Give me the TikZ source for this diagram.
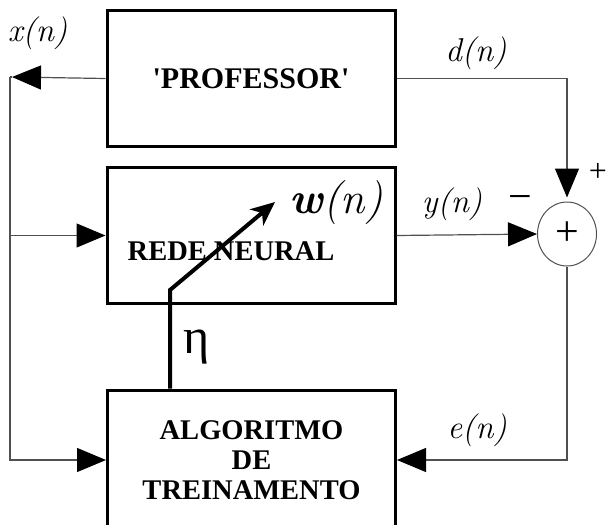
\documentclass[tikz,border=0pt]{standalone}
\usepackage{fontspec}
\setmainfont{Liberation Serif}
\newfontfamily\sigfont{Latin Modern Roman}
\usepackage{tikz}
\usetikzlibrary{arrows.meta,positioning,shapes.geometric,calc}
\definecolor{wiregray}{RGB}{80,80,80}

\begin{document}
\begin{tikzpicture}[x=1pt, y=-1pt,
    block/.style={draw, line width=3pt, rectangle, minimum width=288pt, minimum height=136pt, inner sep=0pt},
    blocktext/.style={font=\fontsize{28.5}{30}\selectfont\bfseries, align=center},
    wire/.style={draw=wiregray, line width=1.2pt},
    head/.style={-{Triangle[length=29pt, width=24pt, color=black]}},
    sig/.style={font=\sigfont\fontsize{33}{36}\selectfont\itshape, anchor=base},
    sign/.style={font=\fontsize{42}{44}\selectfont, inner sep=0pt}]
\useasboundingbox (0,0) rectangle (609,524);
\clip (0,0) rectangle (609,524);

% Blocks
\node[block, font=\fontsize{30}{34}\selectfont\bfseries] (prof) at (251,78.5) {\textquotesingle PROFESSOR\textquotesingle};
\node[block] (rede) at (251,235.5) {};
\node[blocktext, anchor=base] (redetxt) at (231,260) {REDE NEURAL};
\node[block, minimum height=140pt, blocktext] (algo) at (251.5,460) {ALGORITMO\\DE\\TREINAMENTO};
\node[draw=wiregray, line width=1pt, ellipse, minimum width=59pt, minimum height=64pt, sign] (sum) at (567,234) {+};

% Left bus
\coordinate (xtip) at (12,77);
\coordinate (bus) at (10,77);
\draw[wire, head] (prof.west) -- (xtip);
\draw[wire] (xtip) -- (bus);
\draw[wire, head] (bus) |- (algo.west);
\draw[wire, head] (bus |- rede.west) -- (rede.west);

% Error loop
\draw[wire, head, shorten >=4pt] (prof.east) -| (sum.north);
\draw[wire, head] (rede.east) -- (sum.west);
\draw[wire, head] (sum.south) |- (algo.east);

% Weight adjustment
\coordinate (bend) at (170,290);
\coordinate (wtip) at (275,202);
\draw[line width=4pt, -{Stealth[length=24pt, width=21pt, inset=7pt]}] (algo.north -| bend) -- (bend) -- (wtip);

% Labels
\node[sig] (xlab) at (37.5,42) {x(n)};
\node[sig] (dlab) at (476,62) {d(n)};
\node[sig] (ylab) at (452,212) {y(n)};
\node[sig] (elab) at (477,438) {e(n)};
\node[sig, font=\sigfont\fontsize{44}{48}\selectfont\itshape] (wlab) at (336,213) {\textbf{w}(n)};
\node[anchor=base, font=\fontsize{50}{52}\selectfont] (eta) at (197,353) {η};
\node[sign, font=\fontsize{32}{34}\selectfont] (plus) at (598,172) {+};
\node[sign] (minus) at (520,203) {−};
\end{tikzpicture}
\end{document}
